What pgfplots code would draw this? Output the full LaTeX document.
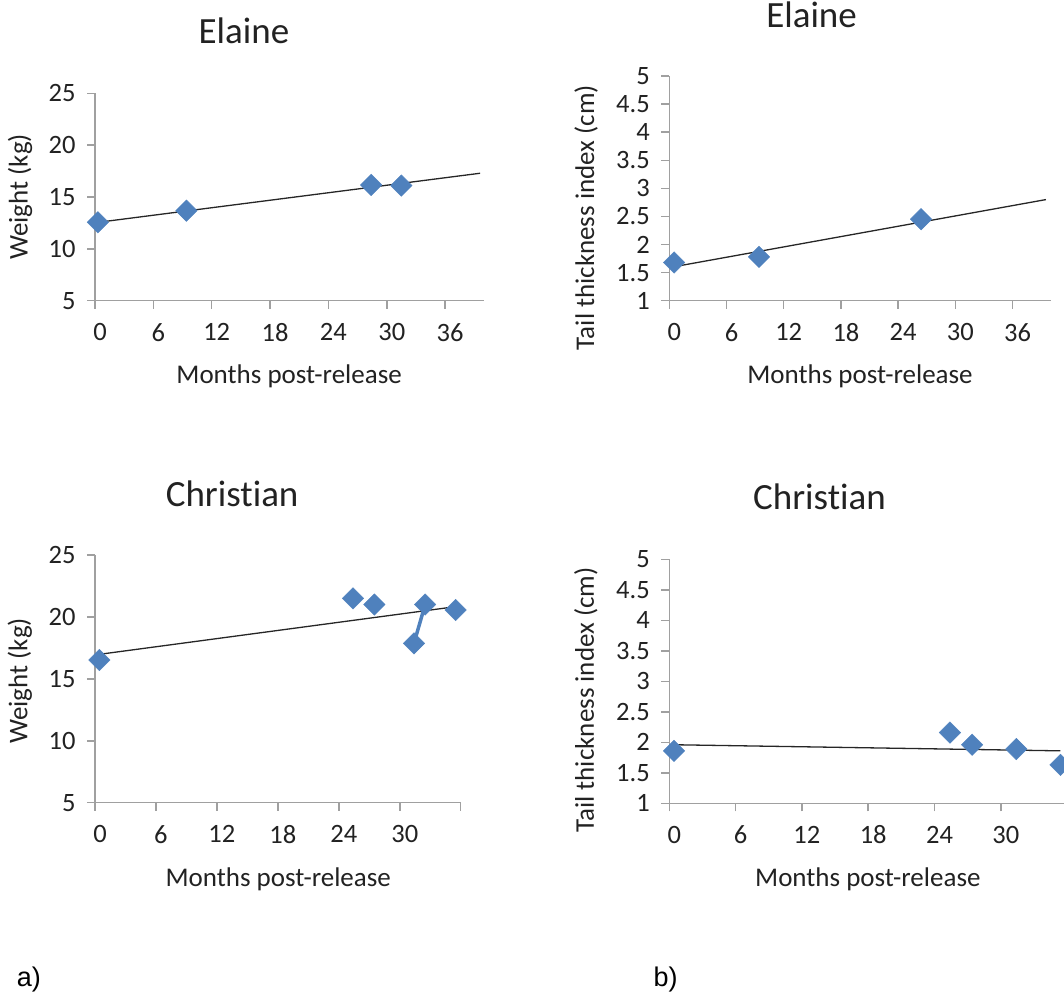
\documentclass[border=0pt]{standalone}
\usepackage{pgfplots}
\pgfplotsset{compat=1.18}
\usepackage{fontspec}
\setmainfont{Carlito}[Ligatures={NoCommon,NoRequired,NoContextual}]
\newfontfamily\arialfont{Liberation Sans}

\definecolor{mkblue}{HTML}{4F81BD}
\definecolor{axgray}{HTML}{A0A0A0}
\definecolor{txt}{HTML}{222222}

\pgfplotsset{
  panel/.style={
    scale only axis,
    axis lines=left,
    axis line style={-, axgray, line width=1.5pt},
    tick style={axgray, line width=1.5pt},
    major tick length=8pt,
    tick align=outside,
    /pgf/number format/assume math mode=true,
    tick label style={font=\fontsize{26.5}{31}\selectfont, text=txt},
    label style={font=\fontsize{27}{32}\selectfont, text=txt},
    title style={font=\fontsize{37}{44}\selectfont, text=txt, anchor=base},
    xticklabel style={xshift=5pt, yshift=-11pt},
    yticklabel style={xshift=-8pt},
    xlabel={Months post-release},
    xtick={0,6,...,36},
    clip=false,
  },
  dia/.style={only marks, mark=square*, mark size=7.6pt,
    mark options={rotate=45, fill=mkblue, draw=mkblue}},
  trend/.style={no marks, black!85, line width=1.3pt},
}

\begin{document}
\begin{tikzpicture}[x=1pt,y=1pt]
\path[use as bounding box] (0,0) rectangle (1064,994);

% Elaine, weight
\begin{axis}[panel, at={(95pt,693.3pt)}, anchor=south west,
  width=389pt, height=207.4pt,
  xmin=0, xmax=40, ymin=5, ymax=25, ytick={5,10,...,25},
  title={Elaine}, title style={at={(axis description cs:0.383,1.209)}},
  xlabel style={at={(axis description cs:0.499,-0.398)}, anchor=base},
  ylabel={Weight (kg)},
  ylabel style={at={(axis description cs:-0.1735,0.5)}, anchor=base}]
\addplot[dia] coordinates {(0.3,12.56) (9.4,13.68) (28.4,16.16) (31.5,16.1)};
\addplot[trend] coordinates {(0.34,12.56) (39.6,17.29)};
\end{axis}

% Elaine, tail thickness
\begin{axis}[panel, at={(669.3pt,693.3pt)}, anchor=south west,
  width=381.4pt, height=224.7pt,
  xmin=0, xmax=40, ymin=1, ymax=5, ytick={1,1.5,...,5},
  title={Elaine}, title style={at={(axis description cs:0.373,1.190)}},
  xlabel style={at={(axis description cs:0.5,-0.3676)}, anchor=base},
  ylabel={Tail thickness index (cm)},
  ylabel style={at={(axis description cs:-0.197,0.370)}, anchor=base}]
\addplot[dia] coordinates {(0.5,1.68) (9.4,1.78) (26.4,2.45)};
\addplot[trend] coordinates {(0.5,1.605) (39.5,2.80)};
\end{axis}

% Christian, weight
\begin{axis}[panel, at={(95pt,191.3pt)}, anchor=south west,
  width=365.7pt, height=247.7pt,
  xmin=0, xmax=36, ymin=5, ymax=25, ytick={5,10,...,25},
  xticklabels={0,6,12,18,24,30,{}},
  title={Christian}, title style={at={(axis description cs:0.375,1.172)}},
  xlabel style={at={(axis description cs:0.501,-0.339)}, anchor=base},
  ylabel={Weight (kg)},
  ylabel style={at={(axis description cs:-0.1846,0.492)}, anchor=base}]
\addplot[no marks, mkblue, line width=3.5pt] coordinates {(31.4,17.87) (32.5,21.0)};
\addplot[dia] coordinates {(0.43,16.52) (25.4,21.5) (27.5,21.0) (31.4,17.87) (32.5,21.0) (35.5,20.56)};
\addplot[trend] coordinates {(0.43,16.98) (35.5,20.83)};
\end{axis}

% Christian, tail thickness
\begin{axis}[panel, at={(669.3pt,190.7pt)}, anchor=south west,
  width=394.7pt, height=244pt,
  xmin=0, xmax=35.72, ymin=1, ymax=5, ytick={1,1.5,...,5},
  xtick={0,6,...,30},
  title={Christian}, title style={at={(axis description cs:0.3805,1.1775)}},
  xlabel style={at={(axis description cs:0.503,-0.342)}, anchor=base},
  ylabel={Tail thickness index (cm)},
  ylabel style={at={(axis description cs:-0.191,0.423)}, anchor=base}]
\addplot[dia] coordinates {(0.43,1.86) (25.4,2.16) (27.4,1.96) (31.4,1.89) (35.4,1.63)};
\addplot[trend] coordinates {(0.43,1.96) (35.4,1.86)};
\end{axis}

\node[anchor=base west, inner sep=0pt, text=black, font=\arialfont\fontsize{27}{32}\selectfont] at (16.7,7.3) {a)};
\node[anchor=base west, inner sep=0pt, text=black, font=\arialfont\fontsize{27}{32}\selectfont] at (653.3,7.3) {b)};
\end{tikzpicture}
\end{document}
